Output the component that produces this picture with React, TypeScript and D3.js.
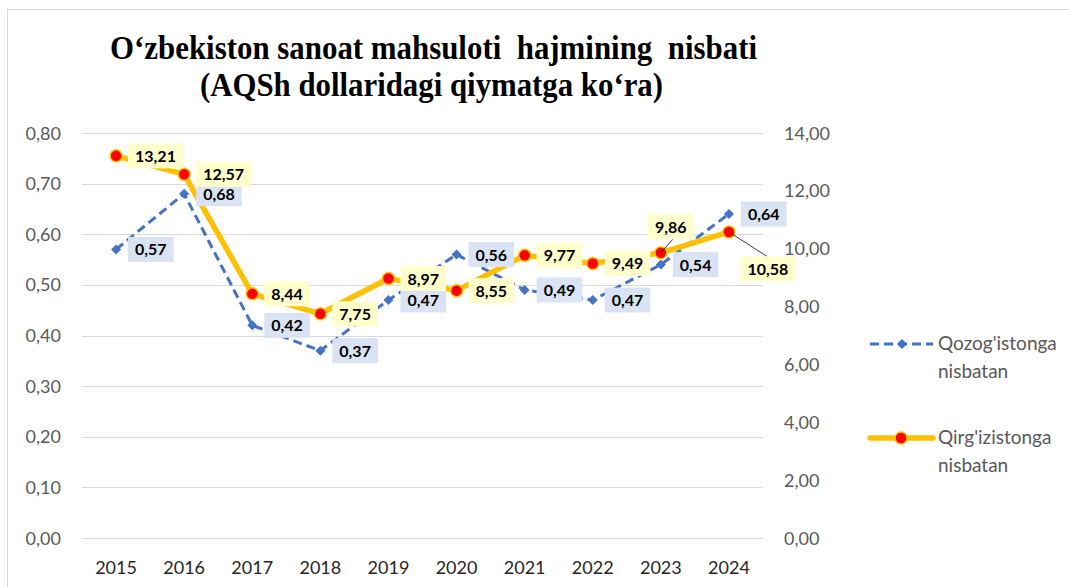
import { useEffect, useRef } from 'react';
import * as d3 from 'd3';

// chart data
const years = ['2015', '2016', '2017', '2018', '2019', '2020', '2021', '2022', '2023', '2024'];
const kazakhValues = [0.57, 0.68, 0.42, 0.37, 0.47, 0.56, 0.49, 0.47, 0.54, 0.64];
const kyrgyzValues = [13.21, 12.57, 8.44, 7.75, 8.97, 8.55, 9.77, 9.49, 9.86, 10.58];
const leftTicks = [0, 0.1, 0.2, 0.3, 0.4, 0.5, 0.6, 0.7, 0.8];
const rightTicks = [0, 2, 4, 6, 8, 10, 12, 14];
const titleLines = ['O‘zbekiston sanoat mahsuloti  hajmining  nisbati', '(AQSh dollaridagi qiymatga ko‘ra)'];
const kazakhLegend = ["Qozog'istonga", 'nisbatan'];
const kyrgyzLegend = ["Qirg'izistonga", 'nisbatan'];

const W = 1069;
const H = 587;
const BLUE = '#4472C4';
const GOLD = '#FFC000';
const FONT = 'Lato, "Open Sans", sans-serif';

// manual label moves (Excel moved these two and drew leader lines)
const kyrgyzLabelMoves: Record<number, [number, number]> = { 8: [10, -26], 9: [39, 37] };

const fmt = (v: number) => d3.format('.2f')(v).replace('.', ',');

export default function App() {
  const svgRef = useRef<SVGSVGElement>(null);

  useEffect(() => {
    const svg = d3.select(svgRef.current);
    svg.selectAll('*').remove();

    const x = d3.scaleBand().domain(years).range([82, 763]);
    const cx = (d: string) => (x(d) as number) + x.bandwidth() / 2;
    const yL = d3.scaleLinear().domain([0, 0.8]).range([538, 133]);
    const yR = d3.scaleLinear().domain([0, 14]).range([538, 133]);

    // frame
    svg.append('rect')
      .attr('x', 7.5).attr('y', 9.5)
      .attr('width', W + 20).attr('height', H + 20)
      .attr('fill', 'white')
      .attr('stroke', '#d9d9d9');

    // title (condensed like the original)
    const titleWidths = [647, 463];
    const titleX = [110, 200];
    titleLines.forEach((t, i) => {
      svg.append('text')
        .attr('x', titleX[i])
        .attr('y', 59 + i * 37)
        .attr('textLength', titleWidths[i])
        .attr('lengthAdjust', 'spacingAndGlyphs')
        .style('font-family', '"Liberation Serif", "Times New Roman", serif')
        .style('font-weight', 'bold')
        .style('font-size', '34px')
        .style('white-space', 'pre')
        .text(t);
    });

    // gridlines
    svg.append('g').selectAll('line')
      .data(leftTicks)
      .join('line')
      .attr('x1', 82).attr('x2', 763)
      .attr('y1', d => Math.round(yL(d)) + 0.5)
      .attr('y2', d => Math.round(yL(d)) + 0.5)
      .attr('stroke', '#d9d9d9')
      .attr('stroke-width', 1.2);

    // left axis labels
    svg.append('g').selectAll('text')
      .data(leftTicks)
      .join('text')
      .attr('x', 61)
      .attr('y', d => yL(d) + 6.5)
      .attr('text-anchor', 'end')
      .style('font-family', FONT)
      .style('font-size', '18px')
      .style('fill', '#595959')
      .text(d => fmt(d));

    // right axis labels
    svg.append('g').selectAll('text')
      .data(rightTicks)
      .join('text')
      .attr('x', 784)
      .attr('y', d => yR(d) + 6.5)
      .style('font-family', FONT)
      .style('font-size', '18px')
      .style('fill', '#595959')
      .text(d => fmt(d));

    // x labels
    svg.append('g').selectAll('text')
      .data(years)
      .join('text')
      .attr('x', d => cx(d))
      .attr('y', 574)
      .attr('text-anchor', 'middle')
      .style('font-family', FONT)
      .style('font-size', '18px')
      .style('fill', '#262626')
      .text(d => d);

    const kzPts = kazakhValues.map((v, i) => [cx(years[i]), yL(v)] as [number, number]);
    const kgPts = kyrgyzValues.map((v, i) => [cx(years[i]), yR(v)] as [number, number]);
    const line = d3.line();

    // square turned 45deg, like Excel's diamond marker
    const diamond = d3.symbol().type(d3.symbolSquare).size(50);

    // Kazakhstan series
    svg.append('path')
      .attr('d', line(kzPts))
      .attr('fill', 'none')
      .attr('stroke', BLUE)
      .attr('stroke-width', 3)
      .attr('stroke-dasharray', '9,5');
    svg.append('g').selectAll('path')
      .data(kzPts)
      .join('path')
      .attr('d', diamond)
      .attr('transform', d => `translate(${d[0]},${d[1]}) rotate(45)`)
      .attr('fill', BLUE);

    // Kyrgyzstan series
    svg.append('path')
      .attr('d', line(kgPts))
      .attr('fill', 'none')
      .attr('stroke', GOLD)
      .attr('stroke-width', 5.5)
      .attr('stroke-linejoin', 'round');
    svg.append('g').selectAll('circle')
      .data(kgPts)
      .join('circle')
      .attr('cx', d => d[0]).attr('cy', d => d[1])
      .attr('r', 6)
      .attr('fill', '#FF0000')
      .attr('stroke', GOLD)
      .attr('stroke-width', 1.5);

    // data labels
    const labels = svg.append('g');
    const addLabel = (px: number, py: number, text: string, bg: string, move?: [number, number]) => {
      const g = labels.append('g');
      const rect = g.append('rect').attr('fill', bg);
      const t = g.append('text')
        .style('font-family', FONT)
        .style('font-size', '16px')
        .style('font-weight', 'bold')
        .style('fill', '#000')
        .text(text);
      const tw = (t.node() as SVGTextElement).getComputedTextLength();
      const bw = tw + 14;
      const bh = 25;
      let left = px + 12;
      let cy = py;
      if (move) {
        left = px + move[0] - bw / 2;
        cy = py + move[1];
        const edgeY = move[1] < 0 ? cy + bh / 2 : cy - bh / 2;
        const edgeX = move[1] < 0 ? px + move[0] + 2 : px + move[0] - 1;
        labels.insert('line', ':first-child')
          .attr('x1', px).attr('y1', py)
          .attr('x2', edgeX).attr('y2', edgeY)
          .attr('stroke', '#262626')
          .attr('stroke-width', 0.9);
      }
      rect.attr('x', left).attr('y', cy - bh / 2).attr('width', bw).attr('height', bh);
      t.attr('x', left + 7).attr('y', cy + 6);
    };
    kazakhValues.forEach((v, i) => addLabel(kzPts[i][0], kzPts[i][1], fmt(v), '#DAE3F3'));
    kyrgyzValues.forEach((v, i) => addLabel(kgPts[i][0], kgPts[i][1], fmt(v), '#FFFFCC', kyrgyzLabelMoves[i]));

    // legend
    const legend = svg.append('g');
    const legendText = (lines: string[], y: number) => {
      lines.forEach((l, i) => {
        legend.append('text')
          .attr('x', 938)
          .attr('y', y + 6 + i * 28)
          .style('font-family', FONT)
          .style('font-size', '19px')
          .style('fill', '#595959')
          .text(l);
      });
    };
    legend.append('line')
      .attr('x1', 870).attr('x2', 933).attr('y1', 344).attr('y2', 344)
      .attr('stroke', BLUE).attr('stroke-width', 3).attr('stroke-dasharray', '9,5');
    legend.append('path')
      .attr('d', diamond)
      .attr('transform', 'translate(902,344) rotate(45)')
      .attr('fill', BLUE);
    legendText(kazakhLegend, 344);
    legend.append('line')
      .attr('x1', 870).attr('x2', 933).attr('y1', 438).attr('y2', 438)
      .attr('stroke', GOLD).attr('stroke-width', 5.5).attr('stroke-linecap', 'round');
    legend.append('circle')
      .attr('cx', 901).attr('cy', 438).attr('r', 6)
      .attr('fill', '#FF0000').attr('stroke', GOLD).attr('stroke-width', 1.5);
    legendText(kyrgyzLegend, 438);
  }, []);

  return (
    <div>
      <style>{'body{margin:0}'}</style>
      <svg ref={svgRef} width={W} height={H} style={{ display: 'block', background: 'white' }}></svg>
    </div>
  );
}
